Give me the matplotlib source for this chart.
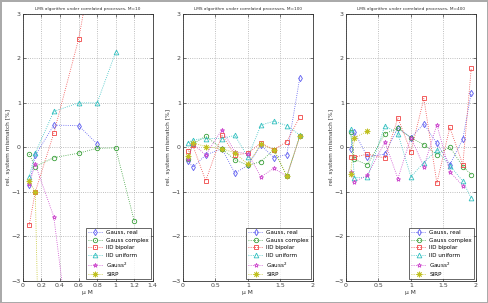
import numpy as np
import matplotlib
matplotlib.use("Agg")
import matplotlib.pyplot as plt

nan = np.nan
labels = ["Gauss, real", "Gauss complex", "IID bipolar", "IID uniform", "Gauss$^2$", "SIRP"]
titles = ["LMS algorithm under correlated processes, M=10",
          "LMS algorithm under correlated processes, M=100",
          "LMS algorithm under correlated processes, M=400"]

# panel 1 (M=10)
x1 = [0.067, 0.133, 0.333, 0.6, 0.8, 1.0, 1.2]
p1_gauss_real = [-0.84, -0.18, 0.50, 0.49, 0.08, nan, nan]
p1_gauss_cplx = [-0.15, -0.43, -0.23, -0.13, -0.02, -0.01, -1.65]
p1_iid_bip = [-1.75, -1.00, 0.32, 2.43, 4.7, nan, nan]
p1_iid_uni = [-0.66, -0.13, 0.81, 1.00, 1.00, 2.14, nan]
p1_gauss2 = [-0.82, -0.38, -1.56, -6.0, nan, nan, nan]
p1_sirp = [-0.75, -1.00, -20.0, nan, nan, nan, nan]

# panel 2 (M=100)
x2 = [0.08, 0.15, 0.35, 0.6, 0.8, 1.0, 1.2, 1.4, 1.6, 1.8]
p2_gauss_real = [-0.30, -0.45, -0.17, -0.03, -0.58, -0.40, 0.05, -0.23, -0.16, 1.57]
p2_gauss_cplx = [-0.25, 0.08, 0.25, -0.03, -0.28, -0.40, -0.32, -0.05, -0.65, 0.26]
p2_iid_bip = [-0.09, 0.05, -0.75, 0.28, -0.17, -0.13, 0.10, -0.05, 0.13, 0.69]
p2_iid_uni = [0.11, 0.17, 0.20, 0.20, 0.27, -0.22, 0.50, 0.59, 0.49, 0.28]
p2_gauss2 = [-0.27, 0.08, -0.17, 0.40, -0.10, -0.14, -0.66, -0.47, -0.65, 0.25]
p2_sirp = [-0.20, 0.10, 0.02, -0.03, -0.12, -0.38, 0.07, -0.05, -0.64, 0.25]

# panel 3 (M=400)
x3 = [0.07, 0.13, 0.33, 0.6, 0.8, 1.0, 1.2, 1.4, 1.6, 1.8, 1.93]
p3_gauss_real = [-0.04, 0.34, -0.21, -0.15, 0.44, 0.22, 0.53, 0.09, -0.39, 0.19, 1.23]
p3_gauss_cplx = [0.34, -0.27, -0.39, 0.31, 0.43, 0.22, 0.06, -0.16, 0.01, -0.43, -0.61]
p3_iid_bip = [-0.21, -0.22, -0.15, -0.24, 0.66, -0.10, 1.10, -0.80, 0.45, -0.39, 1.78]
p3_iid_uni = [0.41, -0.68, -0.67, 0.49, 0.31, -0.66, -0.34, -0.06, -0.41, -0.76, -1.14]
p3_gauss2 = [-0.56, -0.77, -0.63, 0.12, -0.70, 0.22, -0.43, 0.51, -0.55, -0.86, nan]
p3_sirp = [-0.60, 0.22, 0.36, nan, nan, nan, nan, nan, nan, nan, nan]

panels = [
    (x1, [p1_gauss_real, p1_gauss_cplx, p1_iid_bip, p1_iid_uni, p1_gauss2, p1_sirp], 1.4, np.arange(0, 1.41, 0.2)),
    (x2, [p2_gauss_real, p2_gauss_cplx, p2_iid_bip, p2_iid_uni, p2_gauss2, p2_sirp], 2.0, np.arange(0, 2.01, 0.5)),
    (x3, [p3_gauss_real, p3_gauss_cplx, p3_iid_bip, p3_iid_uni, p3_gauss2, p3_sirp], 2.0, np.arange(0, 2.01, 0.5)),
]

colors = ["#5a5af0", "#3aa03a", "#f04444", "#33c0c0", "#cc44cc", "#c0c020"]
markers = ["d", "o", "s", "^", "*", (8, 2, 0)]
msizes = [3.2, 3.2, 3.4, 3.4, 3.2, 4.0]

plt.rcParams['font.family'] = ['DejaVu Sans']
fig = plt.figure(figsize=(4.88, 3.03), dpi=100)
fig.patch.set_edgecolor('#aaaaaa')
fig.patch.set_linewidth(1.0)

lefts = [0.047, 0.375, 0.709]
width = 0.266
bottom = 0.073
height = 0.881

for i, (xv, series, xmax, xt) in enumerate(panels):
    ax = fig.add_axes([lefts[i], bottom, width, height])
    for s, lab, c, m, ms in zip(series, labels, colors, markers, msizes):
        ax.plot(xv, s, linestyle=':', color=c, linewidth=0.6, marker=m,
                markersize=ms, markerfacecolor='none', markeredgecolor=c,
                markeredgewidth=0.6, label=lab)
    ax.set_xlim(0, xmax)
    ax.set_ylim(-3, 3)
    ax.set_xticks(xt)
    ax.set_xticklabels([("%g" % v) for v in xt])
    ax.set_yticks(np.arange(-3, 4, 1))
    ax.grid(True, linestyle=':', color='#aaaaaa', linewidth=0.6)
    ax.tick_params(direction='in', length=2, width=0.5, labelsize=4.5,
                   top=True, right=True, pad=1.5, colors='#444444')
    for sp in ax.spines.values():
        sp.set_linewidth(0.6)
        sp.set_color('#333333')
    ax.set_title(titles[i], fontsize=3.1, pad=3, color='#333333')
    ax.set_ylabel("rel. system mismatch [%]", fontsize=4.2, labelpad=0.5, color='#333333')
    ax.set_xlabel("\u00b5 M", fontsize=4.3, labelpad=1.5, color='#333333')
    leg = ax.legend(loc='lower right', fontsize=4.1, frameon=True, fancybox=False,
                    borderpad=0.4, labelspacing=0.45, handlelength=2.6,
                    handletextpad=0.6, borderaxespad=0.25)
    leg.get_frame().set_edgecolor('#222222')
    leg.get_frame().set_linewidth(0.6)

fig.savefig("out.png", dpi=100)
